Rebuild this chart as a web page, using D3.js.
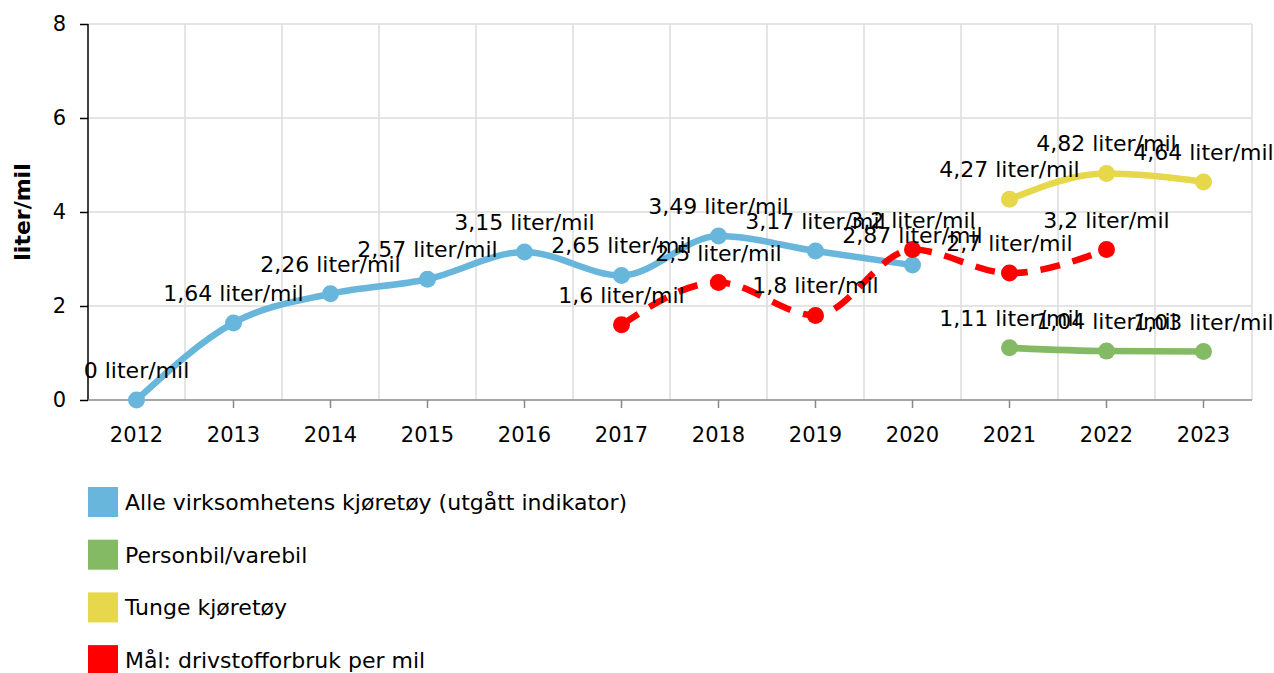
<!DOCTYPE html>
<html>
<head>
<meta charset="utf-8">
<script src="https://cdn.jsdelivr.net/npm/d3@7"></script>
<style>
  body { margin: 0; background: #fff; }
  svg { font-family: "DejaVu Sans", Verdana, sans-serif; }
</style>
</head>
<body>
<div id="chart"></div>
<script>
// data
const years = ["2012","2013","2014","2015","2016","2017","2018","2019","2020","2021","2022","2023"]
const yTicks = [0, 2, 4, 6, 8]

const alleYears = ["2012","2013","2014","2015","2016","2017","2018","2019","2020"]
const alleValues = [0, 1.64, 2.26, 2.57, 3.15, 2.65, 3.49, 3.17, 2.87]

const personYears = ["2021","2022","2023"]
const personValues = [1.11, 1.04, 1.03]

const tungeYears = ["2021","2022","2023"]
const tungeValues = [4.27, 4.82, 4.64]

const maalYears = ["2017","2018","2019","2020","2021","2022"]
const maalValues = [1.6, 2.5, 1.8, 3.2, 2.7, 3.2]

const seriesNames = ["Alle virksomhetens kjøretøy (utgått indikator)", "Personbil/varebil", "Tunge kjøretøy", "Mål: drivstofforbruk per mil"]
const seriesColors = ["#68b6dc", "#84ba64", "#e6d84a", "#ff0000"]

const width = 1274
const height = 673
const plotLeft = 88, plotRight = 1252, plotTop = 24, plotBottom = 400

const svg = d3.select("#chart").append("svg")
  .attr("width", width)
  .attr("height", height)

const x = d3.scaleBand().domain(years).range([plotLeft, plotRight]).padding(0)
const y = d3.scaleLinear().domain([0, 8]).range([plotBottom, plotTop])
const cx = d => x(d) + x.bandwidth() / 2

// grid
svg.append("g").selectAll("line")
  .data(yTicks.filter(d => d > 0))
  .enter().append("line")
  .attr("x1", plotLeft).attr("x2", plotRight)
  .attr("y1", d => y(d)).attr("y2", d => y(d))
  .attr("stroke", "#dcdcdc").attr("stroke-width", 1.5)

svg.append("g").selectAll("line")
  .data(years)
  .enter().append("line")
  .attr("x1", d => x(d) + x.bandwidth())
  .attr("x2", d => x(d) + x.bandwidth())
  .attr("y1", plotTop).attr("y2", plotBottom)
  .attr("stroke", "#dcdcdc").attr("stroke-width", 1.5)

// axes
const yAxis = svg.append("g")
  .attr("transform", "translate(" + plotLeft + ",0)")
  .call(d3.axisLeft(y).tickValues(yTicks).tickSize(8).tickPadding(14))
yAxis.selectAll("path, line").attr("stroke", "#000").attr("stroke-width", 1.5)
yAxis.select(".domain").attr("d", "M0," + plotTop + "V" + plotBottom)
yAxis.selectAll("text").attr("font-size", 21).attr("fill", "#000").attr("font-family", "DejaVu Sans")

const xAxis = svg.append("g")
  .attr("transform", "translate(0," + plotBottom + ")")
  .call(d3.axisBottom(x).tickSize(8).tickPadding(19))
xAxis.selectAll("path, line").attr("stroke", "#888").attr("stroke-width", 1.5)
xAxis.select(".domain").attr("d", "M" + plotLeft + ",0H" + plotRight)
xAxis.selectAll("text").attr("font-size", 21).attr("fill", "#000").attr("font-family", "DejaVu Sans")

svg.append("text")
  .attr("transform", "translate(30," + ((plotTop + plotBottom) / 2) + ") rotate(-90)")
  .attr("text-anchor", "middle")
  .attr("font-size", 22)
  .attr("font-weight", "bold")
  .text("liter/mil")

// series
const series = [
  { years: alleYears, values: alleValues, color: seriesColors[0], dash: null },
  { years: personYears, values: personValues, color: seriesColors[1], dash: null },
  { years: tungeYears, values: tungeValues, color: seriesColors[2], dash: null },
  { years: maalYears, values: maalValues, color: seriesColors[3], dash: "20,13" }
]

const line = d3.line()
  .x(d => cx(d[0]))
  .y(d => y(d[1]))
  .curve(d3.curveMonotoneX)

series.forEach(function(s) {
  const pts = s.years.map((yr, i) => [yr, s.values[i]])
  svg.append("path")
    .datum(pts)
    .attr("d", line)
    .attr("fill", "none")
    .attr("stroke", s.color)
    .attr("stroke-width", 6.5)
    .attr("stroke-dasharray", s.dash)
  svg.append("g").selectAll("circle")
    .data(pts)
    .enter().append("circle")
    .attr("cx", d => cx(d[0]))
    .attr("cy", d => y(d[1]))
    .attr("r", 8.5)
    .attr("fill", s.color)
})

// value labels
const fmt = v => String(v).replace(".", ",") + " liter/mil"
series.forEach(function(s) {
  const pts = s.years.map((yr, i) => [yr, s.values[i]])
  svg.append("g").selectAll("text")
    .data(pts)
    .enter().append("text")
    .attr("x", d => cx(d[0]))
    .attr("y", d => y(d[1]) - 22)
    .attr("text-anchor", "middle")
    .attr("font-size", 22)
    .attr("fill", "#000")
    .text(d => fmt(d[1]))
})

// legend
const legend = svg.selectAll(".legend")
  .data(seriesNames)
  .enter().append("g")
  .attr("class", "legend")
  .attr("transform", (d, i) => "translate(88," + (487 + i * 52.7) + ")")
legend.append("rect")
  .attr("width", 30).attr("height", 30)
  .attr("fill", (d, i) => seriesColors[i])
legend.append("text")
  .attr("x", 37).attr("y", 23)
  .attr("font-size", 22)
  .attr("fill", "#000")
  .text(d => d)
</script>
</body>
</html>
